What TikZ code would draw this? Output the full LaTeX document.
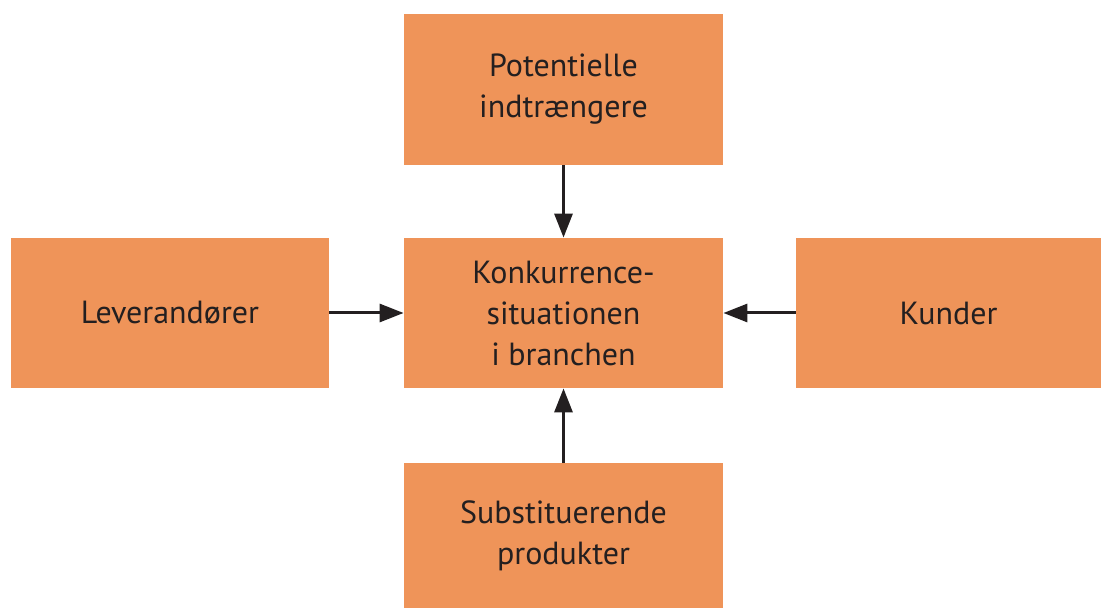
\documentclass[tikz,border=0pt]{standalone}
\usepackage{fontspec}
\setmainfont{PT Sans}
\usetikzlibrary{arrows.meta}
\definecolor{boxorange}{RGB}{239,148,89}
\definecolor{textdark}{RGB}{35,31,32}

\begin{document}
\begin{tikzpicture}[x=0.5pt,y=-0.5pt]
\tikzstyle{every node}=[inner sep=0pt, align=center, text=textdark, font=\fontsize{16}{20.5}\selectfont]
\tikzstyle{box}=[rectangle, fill=boxorange, minimum width=159.5pt, minimum height=75pt]
\tikzstyle{arr}=[line width=1.5pt, draw=textdark, -{Triangle[length=12pt,width=9pt]}]
\useasboundingbox (0,0) rectangle (1101,608);
\node (entrants) [box, minimum height=75.5pt] at (563.5,89.5) {Potentielle\\indtrængere};
\node (rivalry) [box] at (563.5,313) {Konkurrence-\\situationen\\i branchen};
\node (suppliers) [box, minimum width=159pt] at (170,313) {Leverandører};
\node (buyers) [box, minimum width=152.5pt] at (948.5,313) {Kunder};
\node (substitutes) [box, minimum height=72.5pt] at (563.5,535.5) {Substituerende\\produkter};
\draw[arr] (entrants) -- (rivalry);
\draw[arr] (suppliers) -- (rivalry);
\draw[arr] (buyers) -- (rivalry);
\draw[arr] (substitutes) -- (rivalry);
\end{tikzpicture}
\end{document}
